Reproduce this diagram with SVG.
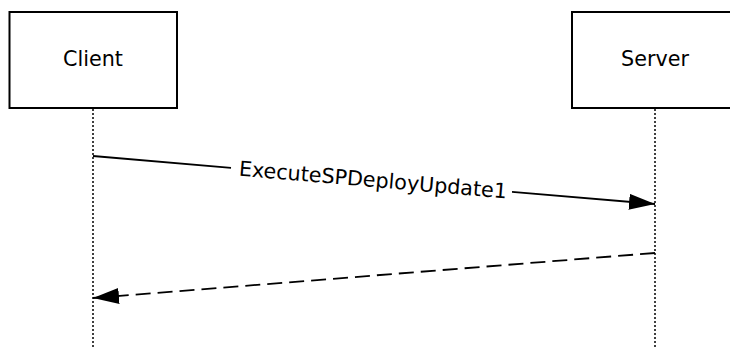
<svg xmlns="http://www.w3.org/2000/svg" width="730" height="347" viewBox="0 0 730 347">
  <style>
    .box { fill: #ffffff; stroke: #000000; stroke-width: 2; }
    .label { font-family: "DejaVu Sans", Verdana, sans-serif; font-size: 20.7px; fill: #000000; }
    .lifeline { stroke: #000000; stroke-width: 1.5; stroke-dasharray: 2 2; fill: none; }
    .msg { stroke: #000000; stroke-width: 1.8; fill: none; }
    .dashed { stroke-dasharray: 15 7; }
  </style>
  <defs>
    <marker id="arrow" markerUnits="userSpaceOnUse" markerWidth="26" markerHeight="16" refX="26" refY="8" orient="auto">
      <path d="M0,0 L26,8 L0,16 z" fill="#000000"/>
    </marker>
  </defs>
  <rect width="730" height="347" fill="#ffffff"/>
  <g id="client">
    <rect class="box" x="9.5" y="12" width="167.5" height="96"/>
    <text class="label" x="93" y="66" text-anchor="middle">Client</text>
    <line class="lifeline" x1="93" y1="109" x2="93" y2="347"/>
  </g>
  <g id="server">
    <rect class="box" x="572" y="12" width="168" height="96"/>
    <text class="label" x="655" y="66" text-anchor="middle">Server</text>
    <line class="lifeline" x1="655" y1="109" x2="655" y2="347"/>
  </g>
  <g id="connectors">
    <line class="msg" x1="93" y1="156" x2="231" y2="167.8"/>
    <line class="msg" x1="512" y1="191.8" x2="655" y2="204" marker-end="url(#arrow)"/>
    <text class="label" transform="translate(373,180) rotate(4.88)" x="0" y="7" text-anchor="middle">ExecuteSPDeployUpdate1</text>
    <line class="msg dashed" x1="655" y1="253" x2="93" y2="298" marker-end="url(#arrow)"/>
  </g>
</svg>
